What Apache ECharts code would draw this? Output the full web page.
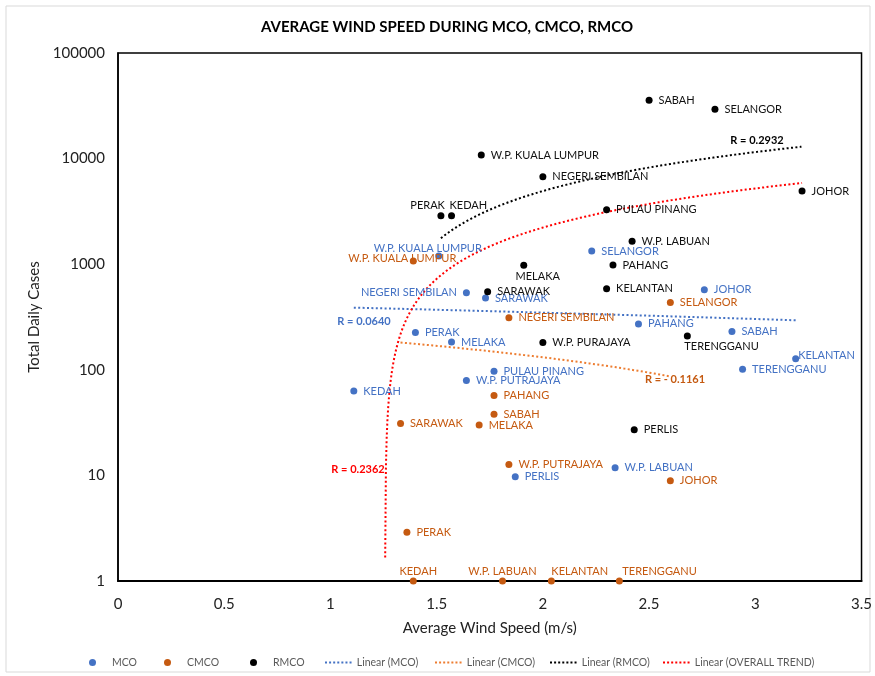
<!DOCTYPE html>
<html>
<head>
<meta charset="utf-8">
<script src="https://cdn.jsdelivr.net/npm/echarts@6/dist/echarts.min.js"></script>
<style>
  html, body { margin: 0; padding: 0; background: #fff; }
  #chart { width: 875px; height: 676px; }
</style>
</head>
<body>
<div id="chart"></div>
<script>
// ---- Data: average wind speed (m/s) vs total daily cases per state ----
const mcoStates = ['W.P. KUALA LUMPUR', 'SELANGOR', 'JOHOR', 'NEGERI SEMBILAN', 'SARAWAK', 'PAHANG', 'SABAH', 'PERAK',
  'MELAKA', 'KELANTAN', 'TERENGGANU', 'PULAU PINANG', 'W.P. PUTRAJAYA', 'KEDAH', 'W.P. LABUAN', 'PERLIS'];
const mcoWind = [1.51, 2.23, 2.76, 1.64, 1.73, 2.45, 2.89, 1.40, 1.57, 3.19, 2.94, 1.77, 1.64, 1.11, 2.34, 1.87];
const mcoCases = [1196, 1334, 574, 537, 478, 272, 231, 225, 183, 127, 101, 97, 79, 63, 11.8, 9.7];

const cmcoStates = ['W.P. KUALA LUMPUR', 'SELANGOR', 'NEGERI SEMBILAN', 'PAHANG', 'SABAH', 'SARAWAK', 'MELAKA',
  'W.P. PUTRAJAYA', 'JOHOR', 'PERAK', 'KEDAH', 'W.P. LABUAN', 'KELANTAN', 'TERENGGANU'];
const cmcoWind = [1.39, 2.60, 1.84, 1.77, 1.77, 1.33, 1.70, 1.84, 2.60, 1.36, 1.39, 1.81, 2.04, 2.36];
const cmcoCases = [1072, 435, 311, 57, 38, 31, 30, 12.7, 8.9, 2.9, 1, 1, 1, 1];

const rmcoStates = ['SABAH', 'SELANGOR', 'W.P. KUALA LUMPUR', 'NEGERI SEMBILAN', 'PERAK', 'KEDAH', 'JOHOR', 'PULAU PINANG',
  'W.P. LABUAN', 'PAHANG', 'MELAKA', 'SARAWAK', 'KELANTAN', 'W.P. PURAJAYA', 'TERENGGANU', 'PERLIS'];
const rmcoWind = [2.50, 2.81, 1.71, 2.00, 1.52, 1.57, 3.22, 2.30, 2.42, 2.33, 1.91, 1.74, 2.30, 2.00, 2.68, 2.43];
const rmcoCases = [35600, 29300, 10800, 6740, 2880, 2880, 4930, 3280, 1650, 982, 977, 549, 586, 181, 209, 27];

const yTicks = [1, 10, 100, 1000, 10000, 100000];
const xTicks = [0, 0.5, 1, 1.5, 2, 2.5, 3, 3.5];

// ---- Styling ----
const FONT = 'Lato, "Open Sans", sans-serif';
const BLUE = '#4472C4';
const ORANGE = '#C55A11';
const ORANGE_LINE = '#ED7D31';
const BLACK = '#000000';
const RED = '#FF0000';

// label placement for points whose label is not simply to the right
const labelPlacement = {
  'RMCO|PERAK': { position: 'top', align: 'right', distance: 1, offset: [4, 0] },
  'RMCO|KEDAH': { position: 'top', align: 'left', distance: 1, offset: [-2, 0] },
  'RMCO|MELAKA': { position: 'bottom', distance: 2, offset: [14, 0] },
  'RMCO|TERENGGANU': { position: 'bottom', align: 'left', distance: 1, offset: [-3, 0] },
  'MCO|W.P. KUALA LUMPUR': { position: 'inside', offset: [-11, -8] },
  'MCO|NEGERI SEMBILAN': { position: 'left' },
  'MCO|KELANTAN': { position: 'right', offset: [-4, -3], distance: 3 },
  'CMCO|W.P. KUALA LUMPUR': { position: 'inside', offset: [-11, -3] },
  'CMCO|KEDAH': { position: 'top', distance: 1, offset: [5, 0] },
  'CMCO|W.P. LABUAN': { position: 'top', distance: 1 },
  'CMCO|KELANTAN': { position: 'top', align: 'left', distance: 1, offset: [0, 0] },
  'CMCO|TERENGGANU': { position: 'top', align: 'left', distance: 1, offset: [3, 0] }
};

function points(key, states, wind, cases) {
  return states.map((s, i) => {
    const item = { name: s, value: [wind[i], cases[i]] };
    const p = labelPlacement[key + '|' + s];
    if (p) item.label = p;
    return item;
  });
}

// least-squares linear trend y = a + b x, drawn across the x range of its data
function linearTrend(xs, ys) {
  const n = xs.length;
  const mx = xs.reduce((s, v) => s + v, 0) / n;
  const my = ys.reduce((s, v) => s + v, 0) / n;
  let sxy = 0, sxx = 0;
  for (let i = 0; i < n; i++) { sxy += (xs[i] - mx) * (ys[i] - my); sxx += (xs[i] - mx) ** 2; }
  const b = sxy / sxx, a = my - b * mx;
  const lo = Math.min(...xs), hi = Math.max(...xs);
  const steps = 600, out = [];
  for (let k = 0; k <= steps; k++) {
    const x = lo + (hi - lo) * k / steps;
    const y = a + b * x;
    if (y >= 1) out.push([x, y]);
  }
  return out;
}

const allWind = mcoWind.concat(cmcoWind, rmcoWind);
const allCases = mcoCases.concat(cmcoCases, rmcoCases);

function scatter(name, color, labelColor, data) {
  return {
    name, type: 'scatter', data, symbol: 'circle', symbolSize: 7, clip: false, z: 5,
    itemStyle: { color, opacity: 1 },
    label: {
      show: true, position: 'right', distance: 6, formatter: '{b}',
      color: labelColor, fontFamily: FONT, fontSize: 11
    }
  };
}

function trend(name, color, data) {
  return {
    name, type: 'line', data, symbol: 'none', showSymbol: false, smooth: false, z: 3,
    lineStyle: { color, width: 2, type: [2, 2.4] },
    itemStyle: { color }
  };
}

// dotted legend glyph for the trend lines
const DOTS = 'path://' + Array.from({ length: 7 }, (_, i) => `M${i * 4.5},0h2.2v2.2h-2.2z`).join('');

function legendItem(name, left, isTrend, color) {
  return {
    left, top: 652, itemWidth: isTrend ? 31 : 7, itemHeight: isTrend ? 2 : 7, itemGap: 0,
    textStyle: { fontFamily: FONT, fontSize: 10.5, color: '#595959', padding: [0, 0, 0, isTrend ? -2 : 11] },
    data: [isTrend ? { name, icon: DOTS, itemStyle: { color, opacity: 1 } } : { name, icon: 'circle' }]
  };
}

const chart = echarts.init(document.getElementById('chart'), null, { renderer: 'canvas' });

const rLabel = (x, y, text, color) => ({
  type: 'text', x, y,
  style: { text, fill: color, font: 'bold 11px ' + FONT, textAlign: 'center', textVerticalAlign: 'middle' }
});

chart.setOption({
  animation: false,
  backgroundColor: '#fff',
  textStyle: { fontFamily: FONT },
  grid: { left: 118, right: 13, top: 53, bottom: 95, show: true, borderColor: '#000', borderWidth: 1.5 },
  xAxis: {
    type: 'value', min: xTicks[0], max: xTicks[xTicks.length - 1], interval: 0.5,
    name: 'Average Wind Speed (m/s)', nameLocation: 'middle', nameGap: 40,
    nameTextStyle: { fontFamily: FONT, fontSize: 15, color: '#222' },
    axisLine: { show: true, lineStyle: { color: '#000', width: 2 } },
    axisTick: { show: false }, splitLine: { show: false },
    axisLabel: { margin: 16, fontFamily: FONT, fontSize: 15, color: '#222', formatter: v => String(v) }
  },
  yAxis: {
    type: 'log', logBase: 10, min: yTicks[0], max: yTicks[yTicks.length - 1],
    name: 'Total Daily Cases', nameLocation: 'middle', nameGap: 66,
    nameTextStyle: { fontFamily: FONT, fontSize: 15, color: '#222' },
    axisLine: { show: true, lineStyle: { color: '#000', width: 1.5 } },
    axisTick: { show: false }, splitLine: { show: false },
    axisLabel: { margin: 13, fontFamily: FONT, fontSize: 15, color: '#222', formatter: v => String(Math.round(v)) }
  },
  legend: [
    legendItem('MCO', 84, false),
    legendItem('CMCO', 159, false),
    legendItem('RMCO', 245, false),
    legendItem('Linear (MCO)', 320, true, BLUE),
    legendItem('Linear (CMCO)', 430, true, ORANGE_LINE),
    legendItem('Linear (RMCO)', 545, true, BLACK),
    legendItem('Linear (OVERALL TREND)', 658, true, RED)
  ],
  series: [
    trend('Linear (MCO)', BLUE, linearTrend(mcoWind, mcoCases)),
    trend('Linear (CMCO)', ORANGE_LINE, linearTrend(cmcoWind, cmcoCases)),
    trend('Linear (RMCO)', BLACK, linearTrend(rmcoWind, rmcoCases)),
    trend('Linear (OVERALL TREND)', RED, linearTrend(allWind, allCases)),
    scatter('MCO', BLUE, BLUE, points('MCO', mcoStates, mcoWind, mcoCases)),
    scatter('CMCO', ORANGE, ORANGE, points('CMCO', cmcoStates, cmcoWind, cmcoCases)),
    scatter('RMCO', BLACK, '#111', points('RMCO', rmcoStates, rmcoWind, rmcoCases))
  ],
  graphic: [
    { type: 'rect', shape: { x: 6, y: 6, width: 864, height: 666 }, style: { fill: 'none', stroke: '#d9d9d9', lineWidth: 1 }, silent: true },
    { type: 'text', x: 447, y: 27, style: { text: 'AVERAGE WIND SPEED DURING MCO, CMCO, RMCO', fill: '#000', font: 'bold 15px ' + FONT, textAlign: 'center', textVerticalAlign: 'middle' } },
    rLabel(757, 140, 'R = 0.2932', '#000'),
    rLabel(364, 321, 'R = 0.0640', BLUE),
    rLabel(675, 379, 'R = - 0.1161', ORANGE),
    rLabel(358, 469, 'R = 0.2362', RED)
  ]
});
</script>
</body>
</html>
